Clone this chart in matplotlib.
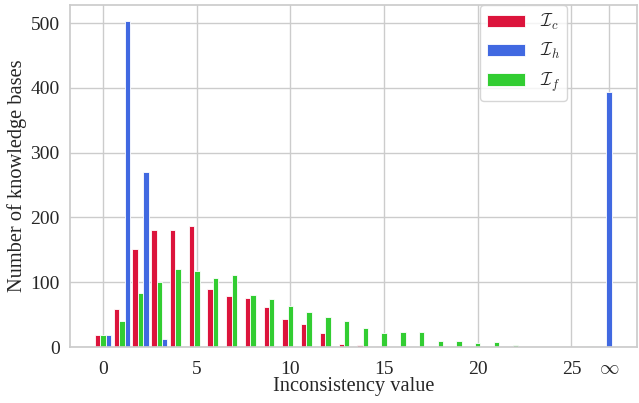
import numpy as np
import matplotlib
matplotlib.use("Agg")
import matplotlib.pyplot as plt
import seaborn as sns

# Inconsistency values 0..26, then the "infinity" bucket
values = list(range(27)) + ["inf"]

counts_c = [18, 59, 152, 181, 181, 187, 89, 78, 75, 61, 43, 35, 22, 4, 3, 1,
            0, 0, 0, 0, 0, 0, 0, 0, 0, 0, 0, 0]
counts_h = [18, 503, 270, 12, 0, 0, 0, 0, 0, 0, 0, 0, 0, 0, 0, 0,
            0, 0, 0, 0, 0, 0, 0, 0, 0, 0, 0, 393]
counts_f = [18, 40, 83, 101, 121, 117, 106, 111, 80, 74, 63, 54, 46, 40, 30, 21,
            23, 23, 9, 9, 6, 7, 3, 0, 0, 0, 1, 0]

tick_values = [0, 5, 10, 15, 20, 25, "inf"]
tick_labels = ["0", "5", "10", "15", "20", "25", r"$\infty$"]

series = [
    (r"$\mathcal{I}_c$", counts_c, "#DC143C", -1),
    (r"$\mathcal{I}_h$", counts_h, "#4169E1", 1),
    (r"$\mathcal{I}_f$", counts_f, "#32CD32", 0),
]

sns.set_theme(style="whitegrid")
plt.rcParams["font.family"] = ["Liberation Serif", "DejaVu Serif"]
plt.rcParams["mathtext.fontset"] = "cm"
plt.rcParams["axes.edgecolor"] = "#cccccc"
plt.rcParams["grid.color"] = "#cccccc"

fig = plt.figure(figsize=(6.39, 4.03), dpi=100)
ax = fig.add_axes([70 / 639, 1 - 347 / 403, 567 / 639, 342 / 403])

width = 0.29
pos = np.arange(len(values), dtype=float)
# the infinity group sits so that its only bar (I_h) lands on the tick
pos[-1] -= width

for label, counts, color, k in series:
    ax.bar(pos + k * width, counts, width=width, color=color,
           edgecolor="white", linewidth=0.6, label=label, zorder=2)

tick_pos = [values.index(v) for v in tick_values]
ax.set_xticks(tick_pos)
ax.set_xticklabels(tick_labels, fontsize=14, color="#262626")
ax.set_yticks([0, 100, 200, 300, 400, 500])
ax.tick_params(axis="y", labelsize=14, labelcolor="#262626", pad=1.5)
ax.tick_params(axis="x", pad=4)
ax.set_xlim(-1.77, 28.5)
ax.set_ylim(0, 528)
ax.set_axisbelow(True)

ax.set_xlabel("Inconsistency value", fontsize=14.7, color="#262626", labelpad=-1)
ax.set_ylabel("Number of knowledge bases", fontsize=14.7, color="#262626", labelpad=2)

leg = ax.legend(loc="upper right", bbox_to_anchor=(567 / 639, 1 - 5 / 403),
                bbox_transform=fig.transFigure, borderaxespad=0,
                fontsize=13, handlelength=2.1, frameon=True)
leg.get_frame().set_edgecolor("#cccccc")

fig.savefig("out.png", dpi=100)
